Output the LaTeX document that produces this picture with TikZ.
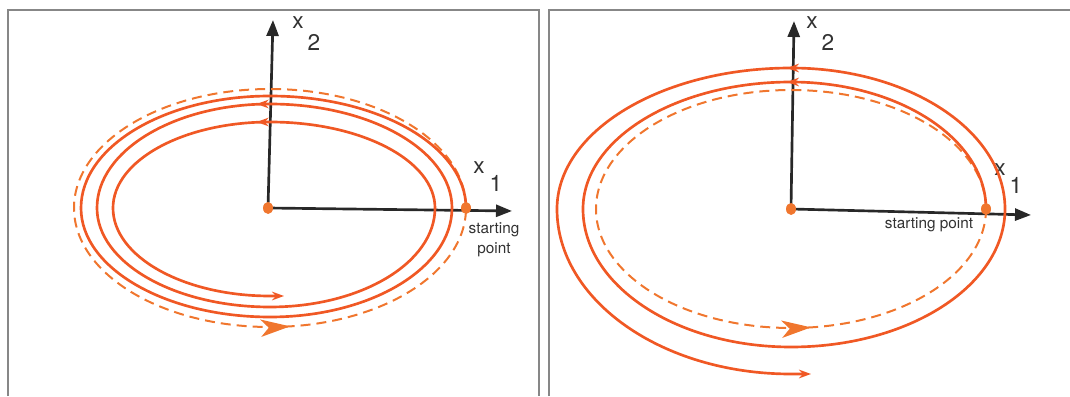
\documentclass[tikz,border=0pt]{standalone}
\usepackage{fontspec}
\setmainfont{TeX Gyre Heros}
\usetikzlibrary{
    arrows.meta,
    decorations.markings,
    positioning
}

\definecolor{trajorange}{RGB}{240,88,36}
\definecolor{dotorange}{RGB}{240,118,46}
\definecolor{axisgray}{RGB}{40,40,40}
\definecolor{framegray}{RGB}{135,135,135}
\definecolor{labelgray}{RGB}{50,50,50}

\tikzset{
    axis/.style={line width=2pt, draw=axisgray, -{Triangle[length=12pt,width=9pt]}},
    traj/.style={line width=2pt, draw=trajorange, -{Stealth[length=9pt,width=6.5pt]}},
    orbit/.style={line width=1.5pt, draw=dotorange, dash pattern=on 7.5pt off 4.5pt},
    midtip/.style={trajorange, line width=1pt, -{Stealth[length=9pt,width=6.5pt]}},
    eqdot/.style={fill=dotorange},
    lbl/.style={text=labelgray, font=\fontsize{17}{20}\selectfont, inner sep=0pt},
    note/.style={text=labelgray, font=\fontsize{11.5}{15}\selectfont, align=center, inner sep=0pt},
    panel/.style={line width=1.1pt, draw=framegray}
}

\begin{document}
\begin{tikzpicture}[x=0.75pt, y=0.75pt]

\useasboundingbox (0,0) rectangle (1070,396);

% Panel frames
\draw[panel] (8,0) -- (8,386) -- (539,386) -- (539,0);
\draw[panel] (549,0) -- (549,386) -- (1070,386);

%%%%%%%% Left panel: spiral inwards

\coordinate (oL) at (268,188);
\coordinate (sL) at (466,188);
\coordinate (x1L) at (512,185);
\coordinate (x2L) at (273,376);

% Axes
\draw[axis] (oL) -- (x1L);
\draw[axis] (oL) -- (x2L);
\node[lbl] (x2Lx) at (298,373) {x};
\node[lbl] (x2Li) at ([shift={(16,-19)}]x2Lx.center) {2};
\node[lbl] (x1Lx) at (479,228) {x};
\node[lbl] (x1Li) at ([shift={(17,-15)}]x1Lx.center) {1};

% Dashed orbit
\draw[orbit, postaction={decorate, decoration={markings,
      mark=at position 0.77 with {\arrow{Stealth[length=22pt,width=13pt,inset=6pt]}}}}]
  (sL) arc[start angle=0, end angle=360, x radius=196, y radius=119];

% Trajectory
\draw[traj] (sL)
  arc[start angle=0,   end angle=90,  x radius=196, y radius=112]
  arc[start angle=90,  end angle=180, x radius=189, y radius=112]
  arc[start angle=180, end angle=270, x radius=189, y radius=109]
  arc[start angle=270, end angle=360, x radius=182, y radius=109]
  arc[start angle=0,   end angle=90,  x radius=182, y radius=104] coordinate (topL2)
  arc[start angle=90,  end angle=180, x radius=173, y radius=104]
  arc[start angle=180, end angle=270, x radius=173, y radius=99]
  arc[start angle=270, end angle=360, x radius=165, y radius=99]
  arc[start angle=0,   end angle=90,  x radius=165, y radius=86] coordinate (topL3)
  arc[start angle=90,  end angle=180, x radius=157, y radius=86]
  arc[start angle=180, end angle=270, x radius=157, y radius=88]
  -- ++(14,0);
\draw[midtip] ([xshift=0pt]topL2) -- ([xshift=-10pt]topL2);
\draw[midtip] ([xshift=0pt]topL3) -- ([xshift=-10pt]topL3);

% Equilibrium and start
\fill[eqdot] (oL) ellipse[x radius=5, y radius=6];
\fill[eqdot] (sL) ellipse[x radius=5, y radius=6];
\node[note] (startL) at (494,156) {starting\\point};

%%%%%%%% Right panel: spiral outwards

\coordinate (oR) at (791,187);
\coordinate (sR) at (986,187);
\coordinate (x1R) at (1031,181);
\coordinate (x2R) at (794,375);

% Axes
\draw[axis] (oR) -- (x1R);
\draw[axis] (oR) -- (x2R);
\node[lbl] (x2Rx) at (812,373) {x};
\node[lbl] (x2Ri) at ([shift={(16,-19)}]x2Rx.center) {2};
\node[lbl] (x1Rx) at (1000,226) {x};
\node[lbl] (x1Ri) at ([shift={(16,-15)}]x1Rx.center) {1};

% Dashed orbit
\draw[orbit, postaction={decorate, decoration={markings,
      mark=at position 0.77 with {\arrow{Stealth[length=22pt,width=13pt,inset=6pt]}}}}]
  (sR) arc[start angle=0, end angle=360, x radius=195, y radius=119];

% Trajectory
\draw[traj] (sR)
  arc[start angle=0,   end angle=90,  x radius=195, y radius=127] coordinate (topR1)
  arc[start angle=90,  end angle=180, x radius=208, y radius=127]
  arc[start angle=180, end angle=270, x radius=208, y radius=138]
  arc[start angle=270, end angle=360, x radius=214, y radius=138]
  arc[start angle=0,   end angle=90,  x radius=214, y radius=141] coordinate (topR2)
  arc[start angle=90,  end angle=180, x radius=234, y radius=141]
  arc[start angle=180, end angle=270, x radius=234, y radius=165]
  -- ++(20,0);
\draw[midtip] ([xshift=4pt]topR1) -- ([xshift=-3pt]topR1);
\draw[midtip] ([xshift=4pt]topR2) -- ([xshift=-3pt]topR2);

% Equilibrium and start
\fill[eqdot] (oR) ellipse[x radius=5, y radius=6];
\fill[eqdot] (sR) ellipse[x radius=5, y radius=6];
\node[note] (startR) at (929,171) {starting point};

\end{tikzpicture}
\end{document}
